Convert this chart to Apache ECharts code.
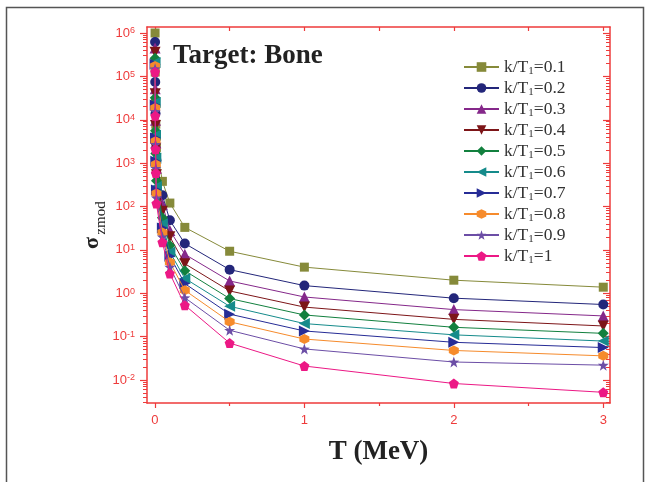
<!DOCTYPE html>
<html><head><meta charset="utf-8">
<script src="https://cdn.jsdelivr.net/npm/echarts@6/dist/echarts.min.js"></script>
<style>html,body{margin:0;padding:0;background:#fff}#c{width:648px;height:482px}</style>
</head><body><div id="c"></div>
<script>
// ---- data ----
const T = [0.001, 0.002, 0.004, 0.006, 0.01, 0.05, 0.1, 0.2, 0.5, 1, 2, 3];
const kNames = ['k/T1=0.1','k/T1=0.2','k/T1=0.3','k/T1=0.4','k/T1=0.5','k/T1=0.6','k/T1=0.7','k/T1=0.8','k/T1=0.9','k/T1=1'];
const k01 = [1.0e6, 1.26e5, 2.5e4, 7.9e3, 2.3e3, 380, 120, 33, 9.3, 4.0, 2.0, 1.38];
const k02 = [6.2e5, 7.4e4, 1.4e4, 4.4e3, 1.17e3, 182, 48, 14, 3.5, 1.5, 0.77, 0.55];
const k03 = [4.5e5, 5.2e4, 9.8e3, 2.95e3, 760, 112, 28, 7.9, 1.92, 0.82, 0.42, 0.30];
const k04 = [3.6e5, 4.0e4, 7.4e3, 2.2e3, 540, 78, 20, 4.8, 1.13, 0.48, 0.25, 0.176];
const k05 = [2.6e5, 3.2e4, 5.6e3, 1.66e3, 390, 55, 12.6, 3.3, 0.755, 0.316, 0.164, 0.119];
const k06 = [2.1e5, 2.5e4, 4.4e3, 1.29e3, 290, 40, 8.9, 2.2, 0.50, 0.20, 0.11, 0.079];
const k07 = [1.9e5, 2.2e4, 3.8e3, 1.1e3, 240, 32, 7.1, 1.67, 0.33, 0.135, 0.074, 0.056];
const k08 = [1.74e5, 1.86e4, 3.2e3, 930, 200, 25, 5.2, 1.17, 0.22, 0.088, 0.048, 0.036];
const k09 = [1.5e5, 1.55e4, 2.7e3, 760, 158, 20, 4.0, 0.79, 0.14, 0.052, 0.026, 0.022];
const k10 = [1.26e5, 1.23e4, 2.1e3, 590, 117, 15, 2.85, 0.53, 0.071, 0.021, 0.0083, 0.0052];
const seriesValues = [k01,k02,k03,k04,k05,k06,k07,k08,k09,k10];
const xTicks = [0, 1, 2, 3];
const xMinorTicks = [0.5, 1.5, 2.5];
const xTopTicks = [0, 0.5, 1, 1.5, 2, 2.5, 3];
const yTicks = [1e-2, 1e-1, 1e0, 1e1, 1e2, 1e3, 1e4, 1e5, 1e6];

// ---- styling ----
const RED = '#ee3b3b';
const colors = ['#868a3a','#23267a','#85288a','#7d1518','#12803e','#158b8b','#262c96','#f68b2c','#6c4ea6','#ec1885'];
const STAR = 'path://M0,-10 L2.35,-3.24 9.51,-3.09 3.8,1.24 5.88,8.09 0,4 -5.88,8.09 -3.8,1.24 -9.51,-3.09 -2.35,-3.24Z';
const PENT = 'path://M0,-10 L9.51,-3.09 5.88,8.09 -5.88,8.09 -9.51,-3.09Z';
const HEX = 'path://M0,-10 L8.66,-5 8.66,5 0,10 -8.66,5 -8.66,-5Z';
const symbols = [
  ['rect', 9, 0], ['circle', 10, 0], ['triangle', 11, 0], ['triangle', 11, 180], ['diamond', 11, 0],
  ['triangle', 11, 90], ['triangle', 11, -90], [HEX, 10, 0], [STAR, 11, 0], [PENT, 10, 0]
];
const yMinorTicks = [];
for (let e = -3; e <= 6; e++) for (let m = 2; m <= 9; m++) yMinorTicks.push(m * Math.pow(10, e));

const XMIN = -0.053, XMAX = 3.045, YMIN = 0.00295, YMAX = 1.375e6;

const chart = echarts.init(document.getElementById('c'), null, {renderer: 'canvas'});
const baseX = {type: 'value', min: XMIN, max: XMAX, splitLine: {show: false}};
const baseY = {type: 'log', logBase: 10, min: YMIN, max: YMAX, splitLine: {show: false}, minorTick: {show: false}};

const option = {
  animation: false,
  backgroundColor: '#fff',
  title: {
    text: 'Target: Bone', left: 168, top: 38,
    textStyle: {fontFamily: 'Liberation Serif', fontWeight: 'bold', fontSize: 27, color: '#222'}
  },
  grid: {left: 147, right: 38, top: 27, bottom: 79, containLabel: false},
  legend: {
    orient: 'vertical', left: 458, top: 52, itemWidth: 35, itemHeight: 12, itemGap: 1,
    data: kNames,
    formatter: n => n.replace('T1', 'T{s|1}'),
    textStyle: {
      fontFamily: 'Liberation Serif', fontSize: 17.5, color: '#333', lineHeight: 20,
      rich: {s: {fontFamily: 'Liberation Serif', fontSize: 11, lineHeight: 11, verticalAlign: 'bottom', color: '#333'}}
    }
  },
  xAxis: [
    Object.assign({}, baseX, {
      position: 'bottom',
      name: 'T (MeV)', nameLocation: 'middle', nameGap: 36,
      nameTextStyle: {fontFamily: 'Liberation Serif', fontWeight: 'bold', fontSize: 27, color: '#222'},
      axisLine: {onZero: false, lineStyle: {color: RED, width: 1.5}},
      axisTick: {customValues: xTicks, length: 5, lineStyle: {color: RED, width: 1.2}},
      axisLabel: {customValues: xTicks, color: RED, fontSize: 13, margin: 11, fontFamily: 'Liberation Sans'}
    }),
    Object.assign({}, baseX, {
      position: 'bottom',
      axisLine: {show: false, onZero: false},
      axisTick: {customValues: xMinorTicks, length: 3, lineStyle: {color: RED, width: 1.2}},
      axisLabel: {show: false}
    }),
    Object.assign({}, baseX, {
      position: 'top',
      axisLine: {onZero: false, lineStyle: {color: RED, width: 1.5}},
      axisTick: {customValues: xTopTicks, inside: true, length: 4, lineStyle: {color: RED, width: 1.2}},
      axisLabel: {show: false}
    })
  ],
  yAxis: [
    Object.assign({}, baseY, {
      position: 'left',
      axisLine: {onZero: false, lineStyle: {color: RED, width: 1.5}},
      axisTick: {customValues: yTicks, length: 7, lineStyle: {color: RED, width: 1.2}},
      axisLabel: {
        customValues: yTicks, color: RED, margin: 12, fontFamily: 'Liberation Sans', fontSize: 13,
        formatter: v => '10{sup|' + Math.round(Math.log10(v)) + '}',
        rich: {sup: {fontSize: 9, lineHeight: 9, verticalAlign: 'top', color: RED, fontFamily: 'Liberation Sans'}}
      }
    }),
    Object.assign({}, baseY, {
      position: 'left',
      axisLine: {show: false, onZero: false},
      axisTick: {customValues: yMinorTicks, length: 4, lineStyle: {color: RED, width: 1}},
      axisLabel: {show: false}
    }),
    Object.assign({}, baseY, {
      position: 'right',
      axisLine: {onZero: false, lineStyle: {color: RED, width: 1.5}},
      axisTick: {customValues: yTicks, inside: true, length: 7, lineStyle: {color: RED, width: 1.2}},
      axisLabel: {show: false}
    }),
    Object.assign({}, baseY, {
      position: 'right',
      axisLine: {show: false, onZero: false},
      axisTick: {customValues: yMinorTicks, inside: true, length: 4, lineStyle: {color: RED, width: 1}},
      axisLabel: {show: false}
    })
  ],
  graphic: [
    {type: 'rect', silent: true, shape: {x: 6.5, y: 7.5, width: 637, height: 500},
     style: {fill: 'none', stroke: '#555', lineWidth: 1.5}},
    {type: 'text', silent: true, x: 92, y: 243, rotation: Math.PI / 2,
     style: {text: 'σ', font: 'bold 22px "Liberation Serif"', fill: '#222', align: 'center', verticalAlign: 'middle'}},
    {type: 'text', silent: true, x: 101, y: 218, rotation: Math.PI / 2,
     style: {text: 'zmod', font: '15px "Liberation Serif"', fill: '#222', align: 'center', verticalAlign: 'middle'}}
  ],
  series: seriesValues.map((vals, i) => ({
    name: kNames[i], type: 'line', xAxisIndex: 0, yAxisIndex: 0,
    data: T.map((t, j) => [t, vals[j]]),
    symbol: symbols[i][0], symbolSize: symbols[i][1], symbolRotate: symbols[i][2],
    showAllSymbol: true,
    lineStyle: {color: colors[i], width: 1},
    itemStyle: {color: colors[i]},
    z: 2 + i
  }))
};
chart.setOption(option);
</script>
</body></html>
